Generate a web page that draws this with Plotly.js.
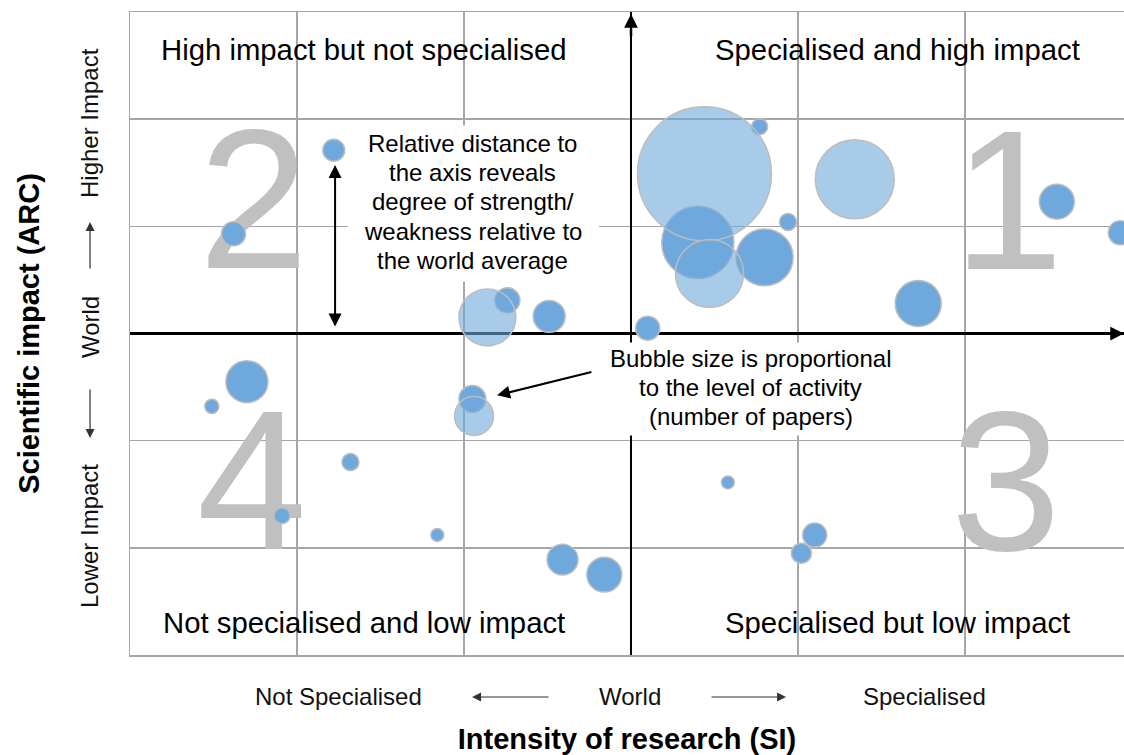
<!DOCTYPE html>
<html>
<head>
<meta charset="utf-8">
<script src="https://cdn.plot.ly/plotly-3.0.1.min.js"></script>
<style>html,body{margin:0;padding:0;background:#fff;}#chart{width:1124px;height:755px;}</style>
</head>
<body>
<div id="chart"></div>
<script>
// ---- Data (relative to world average: 0 = world level) ----
// Series A: darker bubbles
const xA = [0.77, 0.40, 0.80, 0.94, 1.72, 2.55, 2.93, 0.10, -1.78, -2.38, -0.74, -0.49, -2.30, -2.51, -1.68, -2.09, -0.95, -1.16, -0.41, -0.16, 0.58, 1.10, 1.02];
const yA = [1.93, 0.85, 0.71, 1.04, 0.28, 1.23, 0.94, 0.05, 1.71, 0.93, 0.31, 0.16, -0.45, -0.68, -1.20, -1.70, -0.61, -1.88, -2.11, -2.25, -1.39, -1.88, -2.05];
const papersA = [64, 1300, 810, 72, 530, 305, 144, 144, 120, 144, 155, 255, 440, 50, 72, 64, 180, 42, 240, 305, 42, 144, 100];
// Series B: lighter bubbles
const xB = [0.44, 0.47, 1.34, -0.86, -0.94];
const yB = [1.49, 0.56, 1.44, 0.15, -0.77];
const papersB = [4490, 1160, 1560, 810, 380];

// Quadrant numbers
const quadNums = ['1', '2', '3', '4'];
const quadX = [2.26, -2.26, 2.245, -2.27];
const quadY = [1.06, 1.07, -1.56, -1.55];

// Texts
const quadTitles = ['High impact but not specialised', 'Specialised and high impact', 'Not specialised and low impact', 'Specialised but low impact'];
const xSideLabels = ['Not Specialised', 'World', 'Specialised'];
const ySideLabels = ['Lower Impact', 'World', 'Higher Impact'];
const noteDistance = ['Relative distance to', 'the axis reveals', 'degree of strength/', 'weakness relative to', 'the world average'];
const noteBubble = ['Bubble size is proportional', 'to the level of activity', '(number of papers)'];
const xTitle = 'Intensity of research (SI)';
const yTitle = 'Scientific impact (ARC)';

const FONT = 'Liberation Sans, Arial, Helvetica, sans-serif';
const DARK = '#6fa8dc';
const LIGHT = 'rgba(111,168,220,0.6)';
const OUTLINE = '#bdbdbd';
const GRID = '#a6a6a6';

const traces = [
  {
    type: 'scatter', mode: 'text', x: quadX, y: quadY, text: quadNums,
    textposition: 'middle center',
    textfont: {family: FONT, size: 198, color: '#c0c0c0'},
    hoverinfo: 'skip', cliponaxis: false
  },
  {
    type: 'scatter', mode: 'markers', x: xA, y: yA,
    marker: {size: papersA, sizemode: 'area', sizeref: 0.5, color: DARK, opacity: 1,
             line: {color: OUTLINE, width: 1.5}},
    hoverinfo: 'skip', cliponaxis: true
  },
  {
    type: 'scatter', mode: 'markers', x: xB, y: yB,
    marker: {size: papersB, sizemode: 'area', sizeref: 0.5, color: LIGHT, opacity: 1,
             line: {color: OUTLINE, width: 1.5}},
    hoverinfo: 'skip', cliponaxis: true
  }
];

const annotations = [];
function txt(text, x, y, size, extra) {
  annotations.push(Object.assign({
    text: text, x: x, y: y, xref: 'paper', yref: 'paper',
    xanchor: 'center', yanchor: 'middle', showarrow: false,
    font: {family: FONT, size: size, color: '#000'}
  }, extra || {}));
}
// quadrant titles
const qtPos = [[0.2354, 0.9417], [0.7721, 0.9417], [0.2359, 0.0513], [0.7721, 0.0513]];
quadTitles.forEach((t, i) => txt(t, qtPos[i][0], qtPos[i][1], 29.3));
// x side labels
const xsPos = [0.2093, 0.5030, 0.7988];
xSideLabels.forEach((t, i) => txt(t, xsPos[i], -0.0638, 24, {font: {family: FONT, size: 24, color: '#111'}}));
// y side labels
const ysPos = [0.1851, 0.5101, 0.8274];
ySideLabels.forEach((t, i) => txt(t, -0.0402, ysPos[i], 24, {textangle: -90, font: {family: FONT, size: 24, color: '#111'}}));
// notes
const nd = [0.7956, 0.7501, 0.7050, 0.6594, 0.6143];
noteDistance.forEach((t, i) => txt(t, 0.3446, nd[i], 24));
const nb = [0.4613, 0.4162, 0.3706];
noteBubble.forEach((t, i) => txt(t, 0.6247, nb[i], 24));

function arrow(o) {
  annotations.push(Object.assign({
    text: '', showarrow: true, arrowhead: 2, arrowcolor: '#000'
  }, o));
}
// side arrows
const sideArrow = {xref: 'paper', yref: 'paper', arrowwidth: 1.2, arrowsize: 1.5, arrowcolor: '#333'};
arrow(Object.assign({x: 0.3441, y: -0.0653, ax: 78, ay: 0}, sideArrow));
arrow(Object.assign({x: 0.6600, y: -0.0653, ax: -76, ay: 0}, sideArrow));
arrow(Object.assign({x: -0.0402, y: 0.6734, ax: 0, ay: 48}, sideArrow));
arrow(Object.assign({x: -0.0402, y: 0.3375, ax: 0, ay: -50}, sideArrow));
// axis arrowheads
arrow({xref: 'x', yref: 'y', x: 2.952, y: 0, ax: -24, ay: 0, arrowwidth: 2.5, arrowsize: 1.1});
arrow({xref: 'x', yref: 'y', x: 0, y: 2.981, ax: 0, ay: 24, arrowwidth: 2.5, arrowsize: 1.1});
// double arrow showing distance to axis
arrow({xref: 'x', yref: 'y', axref: 'x', ayref: 'y', x: -1.772, y: 1.572, ax: -1.772, ay: 0.051,
       arrowside: 'end+start', arrowhead: 2, startarrowhead: 2, arrowwidth: 2, arrowsize: 1.3, startarrowsize: 1.3});
// pointer to bubble
arrow({xref: 'x', yref: 'y', axref: 'x', ayref: 'y', x: -0.802, y: -0.577, ax: -0.228, ay: -0.355,
       arrowwidth: 2, arrowsize: 1.3});

const shapes = [
  {type: 'rect', xref: 'x', yref: 'y', x0: -1.695, x1: -0.192, y0: 0.485, y1: 1.941,
   fillcolor: '#fff', line: {width: 0}, layer: 'above'},
  {type: 'rect', xref: 'x', yref: 'y', x0: -0.168, x1: 1.611, y0: -0.952, y1: -0.084,
   fillcolor: '#fff', line: {width: 0}, layer: 'above'}
];

const layout = {
  width: 1124, height: 755,
  margin: {l: 130, r: 0, t: 12, b: 100, pad: 0},
  paper_bgcolor: '#fff', plot_bgcolor: '#fff',
  showlegend: false, hovermode: false,
  font: {family: FONT, color: '#000'},
  xaxis: {
    range: [-3, 2.952], tick0: 0, dtick: 1, showticklabels: false, ticks: '',
    showgrid: true, gridcolor: GRID, gridwidth: 1.5,
    zeroline: true, zerolinecolor: '#000', zerolinewidth: 2.5,
    showline: true, linecolor: GRID, linewidth: 1.5, mirror: true, fixedrange: true,
    title: {text: '<b>' + xTitle + '</b>', font: {family: FONT, size: 29, color: '#000'}, standoff: 78}
  },
  yaxis: {
    range: [-3, 3], tick0: 0, dtick: 1, showticklabels: false, ticks: '',
    showgrid: true, gridcolor: GRID, gridwidth: 1.5,
    zeroline: true, zerolinecolor: '#000', zerolinewidth: 2.5,
    showline: true, linecolor: GRID, linewidth: 1.5, mirror: false, fixedrange: true,
    title: {text: '<b>' + yTitle + '</b>', font: {family: FONT, size: 29, color: '#000'}, standoff: 80}
  },
  shapes: shapes,
  annotations: annotations
};

Plotly.newPlot('chart', traces, layout, {staticPlot: true, displayModeBar: false});
</script>
</body>
</html>
